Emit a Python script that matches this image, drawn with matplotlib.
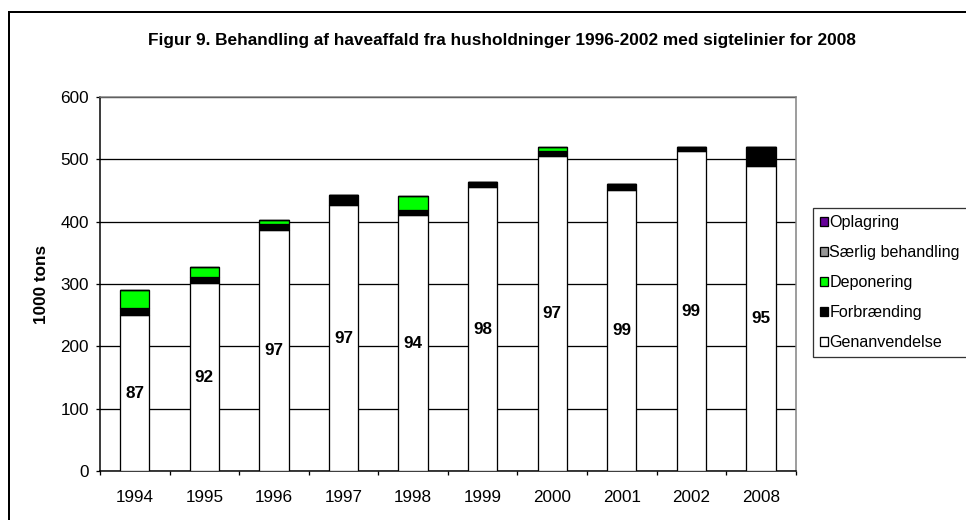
import matplotlib
matplotlib.use("Agg")
import matplotlib.pyplot as plt
from matplotlib.patches import Patch
from matplotlib.lines import Line2D
import numpy as np

plt.rcParams['font.family'] = ['Liberation Sans', 'DejaVu Sans']

years = ['1994', '1995', '1996', '1997', '1998', '1999', '2000', '2001', '2002', '2008']
genanvendelse = [250, 301, 387, 426, 410, 455, 506, 451, 513, 490]
forbraending = [11, 10, 9, 16, 8, 9, 7, 10, 6, 29]
deponering = [29, 17, 7, 0, 23, 0, 6, 0, 0, 0]
saerlig = [0, 0, 0, 0, 0, 0, 0, 0, 0, 0]
oplagring = [0, 0, 0, 0, 0, 0, 0, 0, 0, 0]
pct_labels = ['87', '92', '97', '97', '94', '98', '97', '99', '99', '95']

series_names = ['Genanvendelse', 'Forbrænding', 'Deponering', 'Særlig behandling', 'Oplagring']
series_vals = [genanvendelse, forbraending, deponering, saerlig, oplagring]
series_colors = ['#FFFFFF', '#000000', '#00FF00', '#969696', '#660099']

title = 'Figur 9. Behandling af haveaffald fra husholdninger 1996-2002 med sigtelinier for 2008'
ylabel = '1000 tons'

W, H = 966, 520
fig = plt.figure(figsize=(W / 100, H / 100), dpi=100)
ax = fig.add_axes([100 / W, 1 - 471 / H, (795.7 - 100) / W, (471 - 97) / H])

x = np.arange(len(years))
bottom = np.zeros(len(years))
px = 72 / 100
for name, vals, col in zip(series_names, series_vals, series_colors):
    v = np.array(vals, dtype=float)
    ax.bar(x, v, width=0.42, bottom=bottom, color=col, edgecolor='black',
           linewidth=1.3 * px, zorder=3, label=name)
    bottom += v

for xi, g, lab in zip(x, genanvendelse, pct_labels):
    ax.text(xi, g / 2, lab, ha='center', va='center', fontsize=12.3,
            fontweight='bold', zorder=4)

ax.set_xlim(-0.5, len(years) - 0.5)
ax.set_ylim(0, 600)
ax.set_yticks(np.arange(0, 601, 100))
ax.yaxis.grid(True, color='black', linewidth=1.3 * px, zorder=0)
ax.set_xticks(np.arange(-0.5, len(years), 1.0))
ax.set_xticklabels([])
ax.set_xticks(x, minor=True)
ax.set_xticklabels(years, minor=True)
ax.tick_params(axis='x', which='major', direction='out', length=3.5 * px, width=1.3 * px, color='black')
ax.tick_params(axis='x', which='minor', length=0, pad=19 * px, labelsize=12.3)
ax.tick_params(axis='y', direction='out', length=4 * px, width=1.3 * px, pad=7 * px, labelsize=12.3)

for s in ['left', 'bottom']:
    ax.spines[s].set_color('black')
    ax.spines[s].set_linewidth(1.5 * px)
for s in ['top', 'right']:
    ax.spines[s].set_color('#808080')
    ax.spines[s].set_linewidth(1.5 * px)
ax.set_axisbelow(True)

ax.set_ylabel(ylabel, fontsize=12.3, fontweight='bold', labelpad=11 * px)

fig.text(0.5 * (147 + 857) / W, 1 - 41 / H, title, ha='center', va='center',
         fontsize=12.4, fontweight='bold')

# outer chart border (left and top edges visible)
fig.add_artist(Line2D([9 / W, 9 / W], [0, 1 - 12 / H], color='black', linewidth=2 * px,
                      transform=fig.transFigure))
fig.add_artist(Line2D([9 / W, 1.0], [1 - 12 / H, 1 - 12 / H], color='black', linewidth=2 * px,
                      transform=fig.transFigure))

handles = [Patch(facecolor=c, edgecolor='black', linewidth=1.3 * px)
           for c in series_colors][::-1]
labels = series_names[::-1]
leg = fig.legend(handles, labels, loc='upper left', bbox_to_anchor=(813 / W, 1 - 208 / H),
                 fontsize=11.6, frameon=True, fancybox=False, shadow=False,
                 handlelength=0.45, handleheight=0.45, handletextpad=0.12,
                 labelspacing=0.93, borderpad=0.45, borderaxespad=0)
leg.get_frame().set_edgecolor('black')
leg.get_frame().set_linewidth(1.3 * px)

fig.savefig('out.png', dpi=100)
